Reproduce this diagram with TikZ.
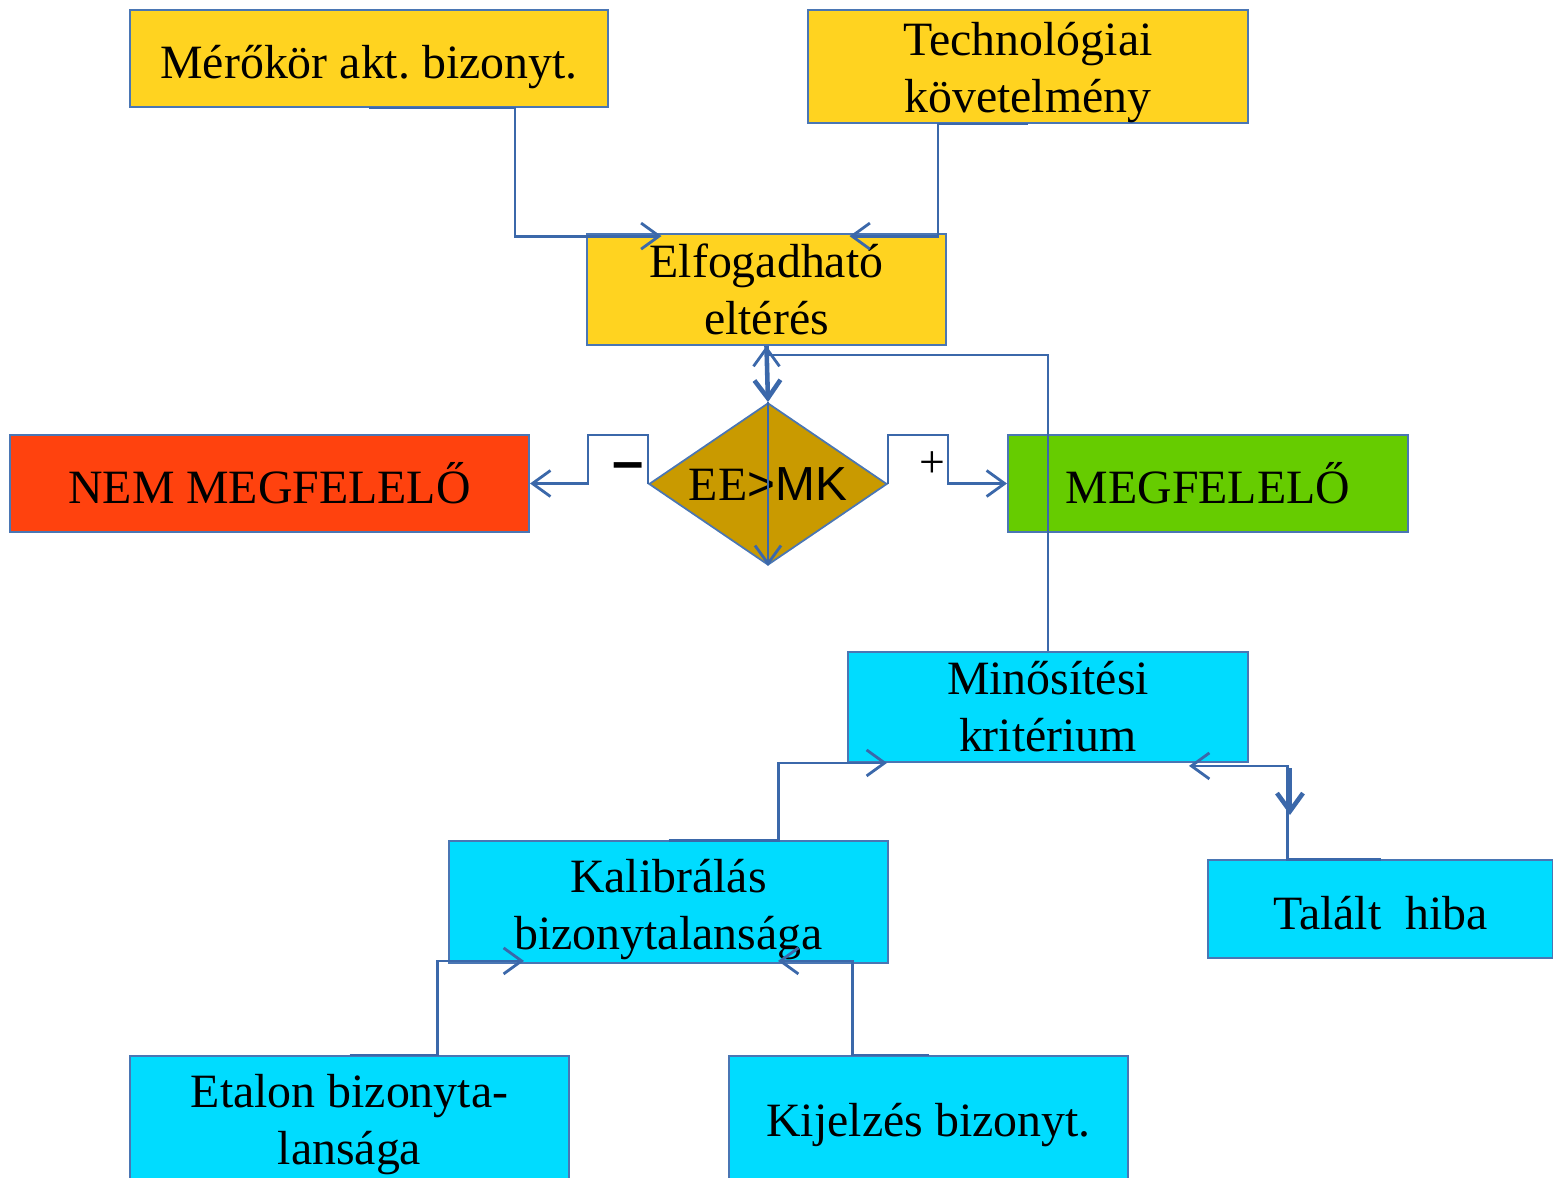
\documentclass[tikz,border=0pt]{standalone}
\usepackage{fontspec}
\setmainfont{Liberation Serif}
\setsansfont{Liberation Sans}
\usetikzlibrary{shapes.geometric,arrows.meta,calc}
\frenchspacing

\definecolor{boxyellow}{HTML}{FFD320}
\definecolor{boxred}{HTML}{FF420E}
\definecolor{boxgreen}{HTML}{66CC00}
\definecolor{boxcyan}{HTML}{00DCFF}
\definecolor{diagold}{HTML}{C99A00}
\definecolor{linkblue}{HTML}{3B68AA}
\definecolor{edgeblue}{HTML}{4A76B4}

\begin{document}
\begin{tikzpicture}[x=0.01cm, y=-0.01cm,
  box/.style={draw=edgeblue, line width=0.5pt, align=center, inner xsep=0pt, inner ysep=-10pt,
    font=\fontsize{13.6}{16.2}\selectfont},
  textdrop/.style={execute at begin node={\rule{0pt}{#1}}},
  link/.style={draw=linkblue, line width=0.8pt, -{Straight Barb[length=1.8mm,width=2.6mm]}},
  biglink/.style={link, line width=1.3pt}]

\clip (0,0) rectangle (1553,1178);

\node[box, fill=boxyellow, minimum width=4.78cm, minimum height=0.97cm, textdrop=14.5pt] (meres) at (369,58.5) {Mérőkör akt. bizonyt.};
\node[box, fill=boxyellow, minimum width=4.40cm, minimum height=1.13cm] (techn) at (1028,66.5) {\rule{0pt}{13pt}Technológiai\\követelmény};
\node[box, fill=boxyellow, minimum width=3.59cm, minimum height=1.11cm] (elf) at (766.5,289.5) {Elfogadható\\eltérés};

\node[box, fill=boxred, minimum width=5.19cm, minimum height=0.97cm] (nem) at (269.5,483.5) {NEM MEGFELELŐ};
\node[box, fill=boxgreen, minimum width=4.00cm, minimum height=0.97cm] (megf) at (1208,483.5) {MEGFELELŐ};
\node[box, shape=diamond, inner sep=0pt, fill=diagold, minimum width=2.38cm, minimum height=1.62cm, aspect=1.47] (dia) at (768,484) {EE{\sffamily >MK}};

\node[box, fill=boxcyan, minimum width=4.00cm, minimum height=1.10cm] (minos) at (1048,707) {Minősítési\\kritérium};
\node[box, fill=boxcyan, minimum width=4.39cm, minimum height=1.22cm] (kalib) at (668.5,902) {\rule{0pt}{13.5pt}Kalibrálás\\bizonytalansága};
\node[box, fill=boxcyan, minimum width=3.45cm, minimum height=0.98cm, textdrop=11.8pt] (talalt) at (1380.5,909) {Talált~~hiba};
\node[box, fill=boxcyan, minimum width=4.39cm, minimum height=1.38cm] (etalon) at (349.5,1125) {Etalon bizonyta-\\lansága};
\node[box, fill=boxcyan, minimum width=3.99cm, minimum height=1.38cm] (kijel) at (928.5,1125) {Kijelzés bizonyt.};

\node[font=\sffamily\bfseries\fontsize{16}{16}\selectfont] (minus) at (628,472) {–};
\node[font=\fontsize{13}{13}\selectfont] (plus) at (932,465) {+};

\coordinate (hibatop) at (1290,768);

\draw[link] (meres.south) -- ++(146,0) |- ($(elf.north)+(-105,3)$);
\draw[link] (techn.south) -- ++(-90,0) |- ($(elf.north)+(83,3)$);
\draw[link] (minos.north) |- ($(elf.south)+(0,9)$) -- (elf.south);
\draw[biglink] (elf.south) -- (dia.north);
\draw[link] (dia.north) -- (dia.south);
\draw[link] (dia.west) -- ++(0,-49) -- ++(-60,0) |- (nem.east);
\draw[link] (dia.east) -- ++(0,-49) -- ++(60,0) |- (megf.west);
\draw[link] (kalib.north) -- ++(110,0) |- ($(minos.south west)+(40,0)$);
\draw[link] (talalt.north) -- ++(-93,0) |- ($(minos.south east)+(-60,3)$);
\draw[biglink] (hibatop) -- ++(0,47);
\draw[link] (etalon.north) -- ++(88,0) |- ($(kalib.south west)+(76,-3)$);
\draw[link] (kijel.north) -- ++(-76,0) |- ($(kalib.south west)+(330,-3)$);

\end{tikzpicture}
\end{document}
